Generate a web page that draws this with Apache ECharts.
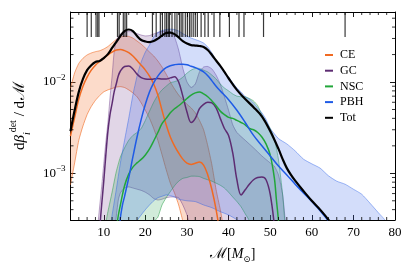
<!DOCTYPE html>
<html><head><meta charset="utf-8">
<script src="https://cdn.jsdelivr.net/npm/echarts@6/dist/echarts.min.js"></script>
<style>html,body{margin:0;padding:0;background:#fff}#c{width:407px;height:279px}</style>
</head><body><div id="c"></div>
<script>
// ---- axis ranges & ticks ----
const xMin = 2, xMax = 80, yMin = 3.08e-4, yMax = 0.0585;
const xMajorTicks = [10, 20, 30, 40, 50, 60, 70, 80];
const xMinorTicks = [4, 6, 8, 12, 14, 16, 18, 22, 24, 26, 28, 32, 34, 36, 38, 42, 44, 46, 48, 52, 54, 56, 58, 62, 64, 66, 68, 72, 74, 76, 78];
const yMinorTicks = [4e-4, 5e-4, 6e-4, 7e-4, 8e-4, 9e-4, 2e-3, 3e-3, 4e-3, 5e-3, 6e-3, 7e-3, 8e-3, 9e-3, 2e-2, 3e-2, 4e-2, 5e-2];
const legendNames = ['CE', 'GC', 'NSC', 'PBH', 'Tot'];

// ---- detected events (rug at top) ----
const rugX = [6.0, 7.0, 8.15, 8.55, 8.85, 13.3, 13.7, 14.7, 15.1, 15.5, 21.7, 22.6, 23.6, 24.1, 24.7, 25.1, 25.5, 25.8, 26.4, 27.1, 27.6, 28.2, 28.6, 29.0, 29.6, 30.1, 30.6, 31.0, 31.5, 32.0, 32.5, 33.4, 34.3, 35.1, 36.5, 37.9, 40.2, 42.5, 43.7, 48.4, 68.0];

// ---- CE ----
const ceMedian = [[2,0.00256],[3,0.0041],[4,0.0065],[5,0.0090],[6,0.0113],[7,0.0135],[8,0.0153],[9,0.0168],[10,0.0183],[11,0.0198],[12,0.0213],[13,0.0224],[14,0.0227],[15,0.0221],[16,0.0210],[17,0.0193],[18,0.0172],[19,0.0153],[20,0.0135],[21,0.0116],[22,0.0095],[23,0.0072],[24,0.0049],[25,0.0034],[26,0.0025],[27,0.0020],[28,0.00167],[29,0.00143],[30,0.00129],[31,0.00125],[32,0.00129],[33,0.00133],[34,0.00123],[35,0.00096],[36,0.00066],[37,0.00040],[38,0.00021]];
const ceUpper = [[2,0.0086],[3,0.0126],[4,0.0160],[5,0.0182],[6,0.0198],[7,0.0208],[8,0.0215],[9,0.0220],[10,0.0230],[11,0.0245],[12,0.0268],[13,0.0292],[14,0.0310],[15,0.0318],[16,0.0316],[17,0.0303],[18,0.0281],[19,0.0260],[20,0.0236],[21,0.0213],[22,0.0193],[23,0.0170],[24,0.0146],[25,0.0122],[26,0.0100],[27,0.0084],[28,0.0072],[29,0.0064],[30,0.0057],[31,0.0052],[32,0.0046],[33,0.0038],[34,0.0030],[35,0.0020],[36,0.00123],[37,0.00066],[38,0.00040],[38.5,0.00030],[39,0.00019]];
const ceLower = [[2,0.00075],[3,0.0013],[4,0.0023],[5,0.0033],[6,0.0044],[7,0.0054],[8,0.0063],[9,0.0071],[10,0.0078],[11,0.0082],[12,0.0085],[13,0.0088],[14,0.0089],[15,0.0087],[16,0.0082],[17,0.0076],[18,0.0069],[19,0.0059],[20,0.0049],[21,0.0040],[22,0.0031],[23,0.0023],[24,0.0016],[25,0.0011],[26,0.00078],[27,0.00061],[28,0.00045],[29,0.00030],[30,0.00019]];

// ---- GC ----
const gcMedian = [[8.9,0.00018],[9.2,0.00031],[10,0.00082],[10.5,0.00159],[11,0.0029],[11.5,0.0044],[12,0.0058],[12.5,0.0078],[13,0.0095],[13.5,0.0117],[14,0.0132],[15,0.0148],[16,0.0150],[17,0.0139],[18,0.0122],[19,0.0112],[20,0.0108],[21,0.0107],[22,0.0108],[23,0.0109],[24,0.0108],[25,0.0108],[26,0.0111],[27,0.0114],[28,0.0100],[29,0.0070],[30,0.0047],[31,0.0036],[32,0.0040],[33,0.0051],[34,0.0057],[35,0.0060],[36,0.0059],[37,0.0052],[38,0.0040],[39,0.0031],[40,0.0026],[41,0.00167],[42,0.00085],[43,0.00058],[44,0.00066],[45,0.00076],[46,0.00085],[47,0.00090],[48,0.00091],[49,0.00085],[50,0.00059],[51,0.00027],[51.5,0.00014]];
const gcUpper = [[8.3,0.00018],[8.7,0.00031],[9.5,0.00072],[10,0.00127],[10.5,0.0022],[11,0.0036],[11.5,0.0067],[12,0.0116],[12.5,0.0214],[13,0.0289],[13.5,0.0313],[14,0.0336],[15,0.0353],[16,0.0357],[17,0.0353],[18,0.0339],[19,0.0327],[20,0.0320],[21,0.0323],[22,0.0336],[23,0.0348],[24,0.0357],[25,0.0362],[26,0.0353],[27,0.0311],[28,0.0224],[29,0.0142],[30,0.0100],[31,0.0087],[32,0.0095],[33,0.0129],[34,0.0146],[35,0.0148],[36,0.0139],[37,0.0119],[38,0.0095],[39,0.0069],[40,0.0049],[41,0.0034],[42,0.0028],[44,0.0023],[46,0.0019],[48,0.00155],[50,0.0013],[51,0.0012],[52,0.00096],[53,0.00058],[53.5,0.00035],[54,0.0002]];
const gcLower = [[12.7,0.00018],[12.9,0.0003],[13.5,0.00051],[14,0.00061],[15,0.00069],[16,0.00071],[17,0.00069],[18,0.00067],[19,0.00065],[20,0.00062],[21,0.00058],[22,0.00053],[23,0.00051],[24,0.00052],[25,0.00054],[26,0.00055],[27,0.00055],[28,0.00054],[29,0.00045],[30,0.00035],[31,0.00024],[31.5,0.00018]];

// ---- NSC ----
const nscMedian = [[13.0,0.00018],[13.3,0.0003],[14,0.00045],[15,0.00073],[16,0.00098],[17,0.00117],[18,0.0013],[19,0.00142],[20,0.00159],[21,0.00185],[22,0.00226],[23,0.0028],[24,0.0035],[25,0.0040],[26,0.0046],[27,0.0051],[28,0.0055],[29,0.0060],[30,0.0066],[31,0.0072],[32,0.0076],[33,0.0078],[34,0.0074],[35,0.0069],[36,0.0062],[37,0.0055],[38,0.0048],[39,0.0044],[40,0.0041],[41,0.0040],[42,0.0038],[43,0.0036],[44,0.0034],[45,0.0031],[46,0.0030],[47,0.0028],[48,0.0025],[49,0.0021],[50,0.00159],[51,0.00089],[51.5,0.00051],[52,0.0003],[52.3,0.00018]];
const nscUpper = [[10.4,0.00018],[10.6,0.0003],[11,0.00038],[12,0.00062],[13,0.00104],[14,0.00151],[15,0.0019],[16,0.0023],[17,0.0026],[18,0.0028],[19,0.0031],[20,0.0038],[21,0.0048],[22,0.0060],[23,0.0072],[24,0.0082],[25,0.0090],[26,0.0098],[27,0.0101],[28,0.0105],[29,0.0113],[30,0.0125],[31,0.0135],[32,0.0141],[33,0.0141],[34,0.0135],[35,0.0129],[36,0.0119],[37,0.0108],[38,0.0095],[39,0.0086],[40,0.0080],[41,0.0074],[42,0.0070],[43,0.0069],[44,0.0069],[45,0.0066],[46,0.0062],[47,0.0055],[48,0.0044],[49,0.0037],[50,0.0031],[51,0.0024],[52,0.0014],[53,0.00058],[53.5,0.0003],[53.8,0.00018]];
const nscLower = [[22.0,0.00018],[22.2,0.0003],[23,0.00033],[24,0.00045],[25,0.00054],[26,0.00063],[27,0.00073],[28,0.00082],[29,0.00088],[30,0.00090],[31,0.00093],[32,0.00093],[33,0.00092],[34,0.00088],[35,0.00085],[36,0.00082],[37,0.00078],[38,0.00074],[39,0.00069],[40,0.00062],[41,0.00055],[42,0.00049],[43,0.00043],[44,0.00036],[45,0.0003],[45.5,0.00018]];

// ---- PBH ----
const pbhMedian = [[13.6,0.00018],[13.9,0.0003],[14.5,0.00045],[15,0.00056],[16,0.00089],[17,0.00151],[18,0.0025],[19,0.0039],[20,0.0057],[21,0.0078],[22,0.0098],[23,0.0116],[24,0.0132],[25,0.0144],[26,0.0151],[27,0.0155],[28,0.0157],[29,0.0157],[30,0.0155],[31,0.0149],[32,0.0144],[33,0.0137],[34,0.0129],[35,0.0117],[36,0.0103],[37,0.0090],[38,0.0080],[40,0.0064],[42,0.0049],[44,0.0036],[46,0.0026],[48,0.0020],[50,0.00155],[52,0.00120],[54,0.00096],[56,0.00076],[58,0.00061],[60,0.00049],[62,0.00039],[64,0.00030],[65,0.00025]];
const pbhUpper = [[11.4,0.00018],[11.8,0.0003],[13,0.00066],[14,0.0013],[15,0.0023],[16,0.0040],[17,0.0072],[18,0.0116],[19,0.0166],[20,0.0213],[21,0.0254],[22,0.0311],[23,0.0348],[24,0.0366],[25,0.0376],[26,0.0380],[27,0.0376],[28,0.0362],[29,0.0339],[30,0.0320],[31,0.0303],[32,0.0292],[33,0.0281],[34,0.0267],[35,0.0242],[36,0.0208],[37,0.0174],[38,0.0150],[39,0.0129],[40,0.0114],[41,0.0098],[42,0.0086],[43,0.0078],[44,0.0069],[45,0.0065],[46,0.0059],[47,0.0052],[48,0.0046],[49,0.0039],[50,0.0031],[52,0.0024],[54,0.0021],[56,0.00176],[58,0.00143],[60,0.00127],[62,0.00114],[64,0.00094],[66,0.00082],[68,0.00076],[70,0.00067],[72,0.00059],[74,0.00047],[76,0.00037],[77.7,0.0003],[78.5,0.00018]];
const pbhLower = [[17.6,0.00018],[18,0.0003],[19,0.00035],[20,0.0004],[21,0.00045],[22,0.0005],[23,0.00054],[24,0.00056],[25,0.00058],[26,0.00057],[27,0.00055],[28,0.00052],[30,0.0005],[32,0.00049],[34,0.00045],[36,0.00042],[38,0.00038],[40,0.00035],[42,0.00031],[43,0.00028],[44,0.00018]];

// ---- Total ----
const totMedian = [[2,0.0029],[3,0.0049],[4,0.0078],[5,0.0108],[6,0.0135],[7,0.0153],[8,0.0166],[9,0.0170],[10,0.0183],[11,0.0202],[12,0.0236],[13,0.0274],[14,0.0319],[15,0.0362],[16,0.0376],[17,0.0362],[18,0.0319],[19,0.0289],[20,0.0278],[21,0.0274],[22,0.0281],[23,0.0299],[24,0.0323],[25,0.0344],[26,0.0348],[27,0.0335],[28,0.0308],[29,0.0281],[30,0.0264],[31,0.0254],[32,0.0251],[33,0.0248],[34,0.0242],[35,0.0224],[36,0.0198],[37,0.0172],[38,0.0150],[39,0.0129],[40,0.0110],[42,0.0082],[44,0.0065],[46,0.0053],[48,0.0042],[50,0.0029],[52,0.00185],[53,0.00143],[54,0.00114],[55,0.00096],[56,0.00083],[58,0.00064],[60,0.0005],[62,0.0004],[64,0.00031],[65,0.00026]];

// ---- styles ----
const C = {CE:'#f06a22', GC:'#5d2c72', NSC:'#22a63a', PBH:'#1f5be6', Tot:'#000000'};
const bandFill = {CE:'rgba(242,112,45,0.25)', GC:'rgba(105,50,135,0.20)', NSC:'rgba(45,165,85,0.22)', PBH:'rgba(45,95,232,0.21)'};
const bandEdge = {CE:'rgba(240,106,34,0.75)', GC:'rgba(105,55,135,0.55)', NSC:'rgba(40,160,70,0.65)', PBH:'rgba(40,95,232,0.55)'};
const serif = "'Liberation Serif','DejaVu Serif',serif";

function bandSeries(key, upper, lower) {
  return {
    type: 'custom', name: key + ' band', clip: true, silent: true, z: 1,
    xAxisIndex: 0, yAxisIndex: 0,
    data: [[xMin, yMin]], encode: {x: 0, y: 1},
    renderItem: function (params, api) {
      const up = upper.map(p => api.coord(p));
      const lo = lower.map(p => api.coord(p));
      return {type: 'group', children: [
        {type: 'polygon', shape: {points: up.concat(lo.slice().reverse())}, style: {fill: bandFill[key], stroke: null}},
        {type: 'polyline', shape: {points: up, smooth: 0.2}, style: {stroke: bandEdge[key], lineWidth: 0.8, fill: null}},
        {type: 'polyline', shape: {points: lo, smooth: 0.2}, style: {stroke: bandEdge[key], lineWidth: 0.8, fill: null}}
      ]};
    }
  };
}
function lineSeries(key, data, width, z) {
  return {type: 'line', name: key, data: data, smooth: 0.35, showSymbol: false, symbol: 'none',
    xAxisIndex: 0, yAxisIndex: 0, z: z, silent: true,
    lineStyle: {color: C[key], width: width}, itemStyle: {color: C[key]}, emphasis: {disabled: true}};
}

const rugSeries = {
  type: 'custom', name: 'events', silent: true, z: 6, clip: false,
  xAxisIndex: 0, yAxisIndex: 0,
  data: rugX.map(v => [v, yMax]), encode: {x: 0, y: 1},
  renderItem: function (params, api) {
    const p = api.coord([api.value(0), yMax]);
    return {type: 'line', shape: {x1: p[0], y1: p[1], x2: p[0], y2: p[1] + 25},
      style: {stroke: 'rgba(0,0,0,0.78)', lineWidth: 1.2}};
  }
};

const minorTickSeries = {
  type: 'custom', name: 'minor ticks', silent: true, z: 7, clip: false,
  xAxisIndex: 0, yAxisIndex: 0,
  data: [[xMin, yMin]], encode: {x: 0, y: 1},
  renderItem: function (params, api) {
    const bl = api.coord([xMin, yMin]), tr = api.coord([xMax, yMax]);
    const ch = [];
    const st = {stroke: '#000', lineWidth: 0.8};
    xMinorTicks.forEach(v => {
      const x = api.coord([v, yMin])[0];
      ch.push({type: 'line', shape: {x1: x, y1: bl[1], x2: x, y2: bl[1] - 3}, style: st});
      ch.push({type: 'line', shape: {x1: x, y1: tr[1], x2: x, y2: tr[1] + 3}, style: st});
    });
    yMinorTicks.forEach(v => {
      const y = api.coord([xMin, v])[1];
      ch.push({type: 'line', shape: {x1: bl[0], y1: y, x2: bl[0] + 3, y2: y}, style: st});
      ch.push({type: 'line', shape: {x1: tr[0], y1: y, x2: tr[0] - 3, y2: y}, style: st});
    });
    return {type: 'group', children: ch};
  }
};

const axisLineStyle = {show: true, onZero: false, lineStyle: {color: '#000', width: 1}};
const chart = echarts.init(document.getElementById('c'), null, {renderer: 'canvas'});
chart.setOption({
  animation: false,
  backgroundColor: '#fff',
  grid: {left: 58, right: 12, top: 12, bottom: 59, containLabel: false},
  legend: {
    data: legendNames, orient: 'vertical', left: 320, top: 43, icon: 'rect',
    itemWidth: 8, itemHeight: 2, itemGap: 1.7, selectedMode: false,
    textStyle: {fontFamily: serif, fontSize: 12, color: '#000', lineHeight: 14, padding: [0, 0, 0, 2]}
  },
  xAxis: [
    {type: 'value', min: xMin, max: xMax, position: 'bottom', splitLine: {show: false},
      axisLine: axisLineStyle,
      axisTick: {inside: true, length: 5, customValues: xMajorTicks, lineStyle: {color: '#000', width: 0.9}},
      axisLabel: {customValues: xMajorTicks, color: '#000', fontFamily: serif, fontSize: 13, margin: 6},
      name: '{c|ℳ}{n|[}{m|M}{s|⊙}{n|]}', nameLocation: 'middle', nameGap: 24,
      nameTextStyle: {rich: {
        c: {fontFamily: serif, fontSize: 15, color: '#000', lineHeight: 20},
        n: {fontFamily: serif, fontSize: 14, color: '#000', lineHeight: 20},
        m: {fontFamily: serif, fontSize: 14, fontStyle: 'italic', color: '#000', lineHeight: 20},
        s: {fontFamily: serif, fontSize: 9, color: '#000', verticalAlign: 'bottom'}
      }}
    },
    {type: 'value', min: xMin, max: xMax, position: 'top', splitLine: {show: false},
      axisLine: axisLineStyle,
      axisTick: {inside: true, length: 5, customValues: xMajorTicks, lineStyle: {color: '#000', width: 0.9}},
      axisLabel: {show: false}}
  ],
  yAxis: [
    {type: 'log', logBase: 10, min: yMin, max: yMax, position: 'left', splitLine: {show: false},
      axisLine: axisLineStyle,
      axisTick: {inside: true, length: 5, lineStyle: {color: '#000', width: 0.9}},
      axisLabel: {
        margin: 5, color: '#000',
        formatter: function (v) {
          const e = Math.log10(v), r = Math.round(e);
          if (Math.abs(e - r) > 1e-6) return '';
          return '{b|10}{s|\u2212' + (-r) + '}';
        },
        rich: {
          b: {fontFamily: serif, fontSize: 13, color: '#000', lineHeight: 18},
          s: {fontFamily: serif, fontSize: 9, color: '#000', verticalAlign: 'top'}
        }
      },
      name: '{d|d}{g|β}{i|i}{t|det}{d| / d}{c|ℳ}', nameLocation: 'middle', nameGap: 29,
      nameTextStyle: {rich: {
        d: {fontFamily: serif, fontSize: 15, color: '#000', lineHeight: 24},
        g: {fontFamily: serif, fontSize: 15, fontStyle: 'italic', color: '#000', lineHeight: 24},
        i: {fontFamily: serif, fontSize: 10, fontStyle: 'italic', color: '#000', verticalAlign: 'bottom'},
        t: {fontFamily: serif, fontSize: 10, color: '#000', verticalAlign: 'top'},
        c: {fontFamily: serif, fontSize: 16, color: '#000', lineHeight: 24, padding: [0, 0, 0, 1]}
      }}
    },
    {type: 'log', logBase: 10, min: yMin, max: yMax, position: 'right', splitLine: {show: false},
      axisLine: axisLineStyle,
      axisTick: {inside: true, length: 5, lineStyle: {color: '#000', width: 0.9}},
      axisLabel: {show: false}}
  ],
  series: [
    bandSeries('CE', ceUpper, ceLower),
    bandSeries('GC', gcUpper, gcLower),
    bandSeries('NSC', nscUpper, nscLower),
    bandSeries('PBH', pbhUpper, pbhLower),
    lineSeries('CE', ceMedian, 1.5, 3),
    lineSeries('GC', gcMedian, 1.5, 3),
    lineSeries('NSC', nscMedian, 1.5, 3),
    lineSeries('PBH', pbhMedian, 1.5, 3),
    lineSeries('Tot', totMedian, 2.2, 4),
    rugSeries,
    minorTickSeries
  ]
});
</script>
</body></html>
